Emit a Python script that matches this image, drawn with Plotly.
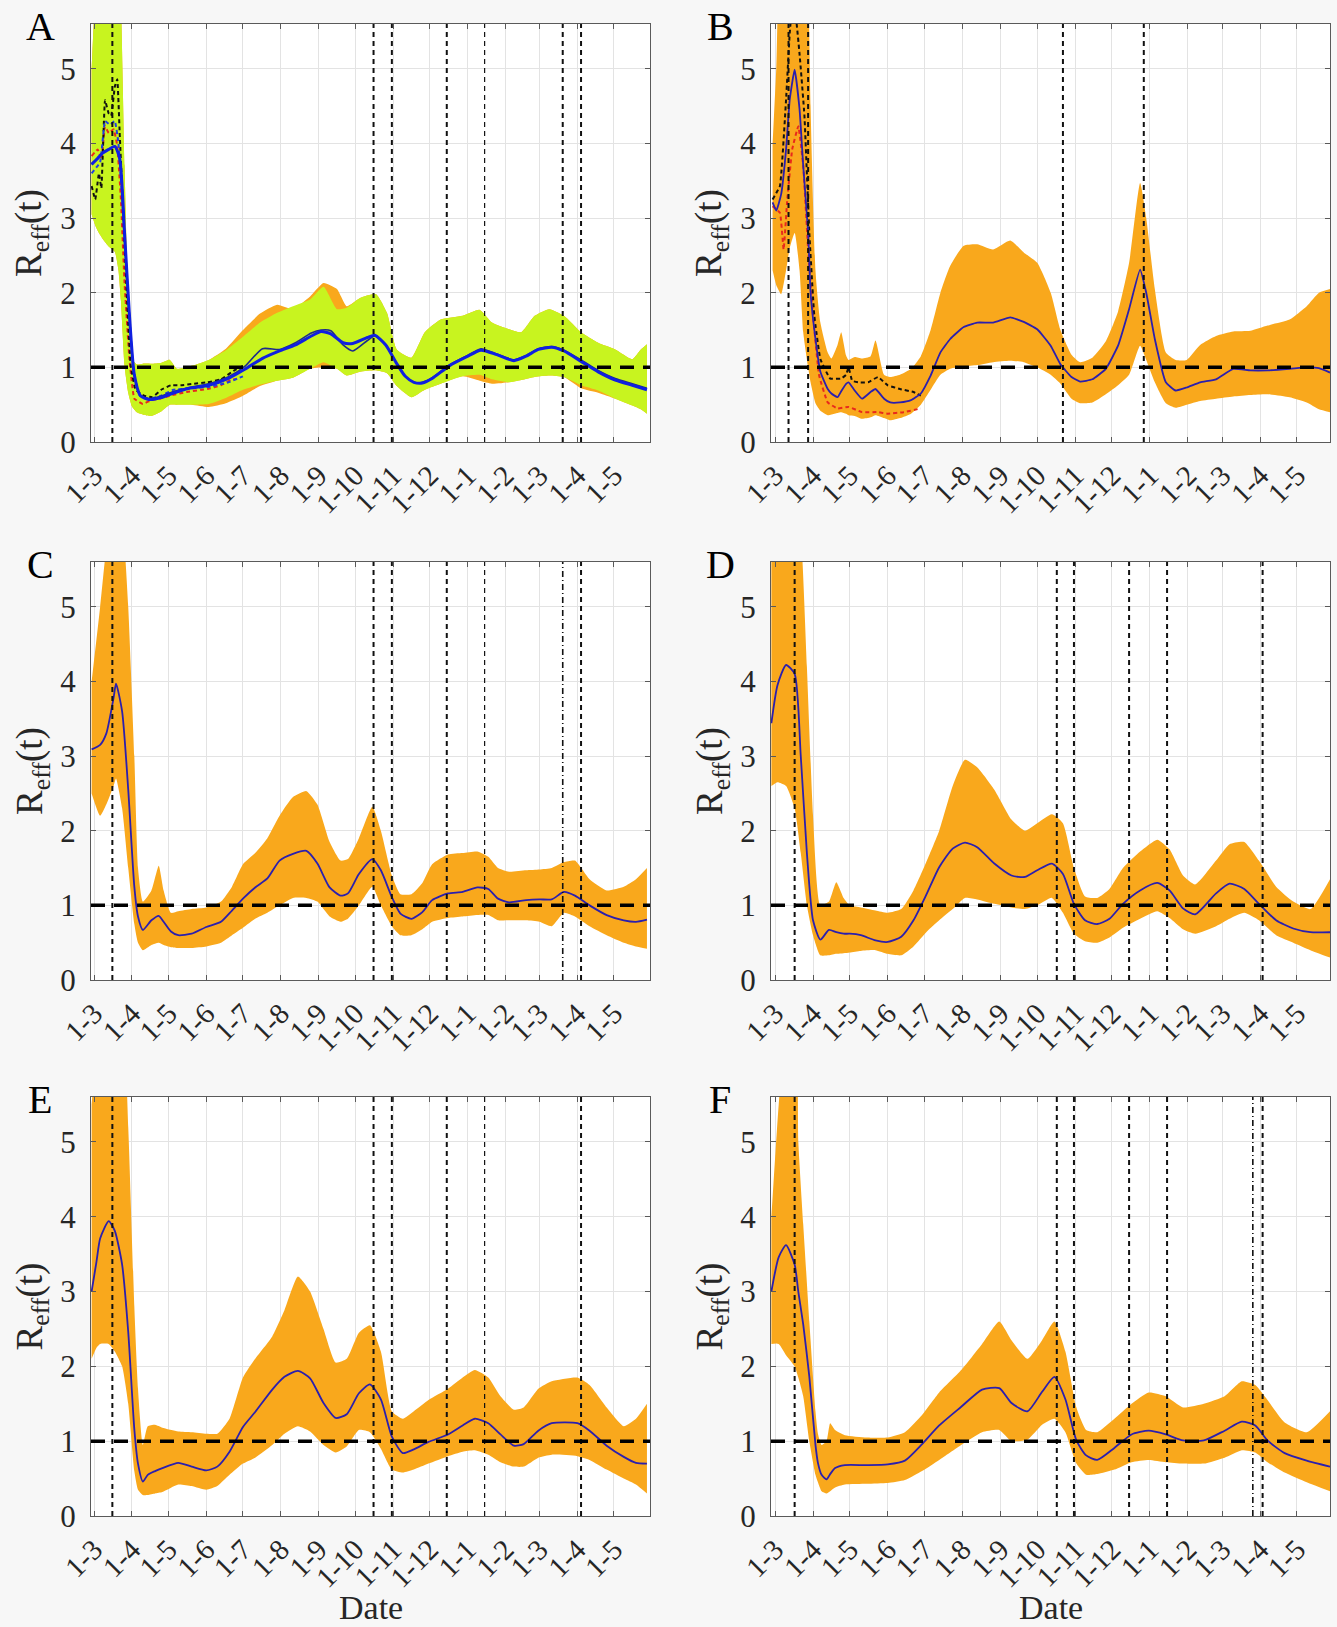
import plotly.graph_objects as go
import pandas as pd

BASE = pd.Timestamp("2020-03-01")
months = pd.date_range("2020-03-01", "2021-05-01", freq="MS")
TICKVALS = [(m - BASE).days for m in months]
TICKTEXT = [f"1-{m.month}" for m in months]


def to_days(dates):
    return [(pd.Timestamp(d) - BASE).days for d in dates]

# ---------------- Panel A ----------------
A_day = [-2, 1, 4, 8, 12, 17, 20, 22, 25, 28, 31, 35, 40, 47, 55, 62, 68, 80, 94, 108,
         122, 136, 150, 163, 177, 188, 199, 207, 218, 231, 240, 248, 260, 271, 284, 302, 316, 326, 340, 350,
         361, 373, 385, 399, 413, 427, 441, 448, 453]
A_g_hi = [5.0, 6.0, 6.5, 6.5, 6.5, 6.5, 6.5, 5.9, 3.7, 1.9, 1.12, 1.04, 1.05, 1.05, 1.06, 1.1, 0.98, 1.02, 1.1, 1.23,
          1.41, 1.6, 1.73, 1.82, 1.91, 2.08, 1.78, 1.8, 1.93, 1.98, 1.73, 1.24, 1.13, 1.47, 1.64, 1.69, 1.77, 1.6, 1.51, 1.47,
          1.69, 1.78, 1.69, 1.47, 1.33, 1.24, 1.11, 1.24, 1.31]
A_g_lo = [3.05, 2.9, 2.8, 2.7, 2.62, 2.55, 2.3, 1.9, 1.02, 0.66, 0.48, 0.4, 0.37, 0.35, 0.41, 0.5, 0.5, 0.5, 0.51, 0.59,
          0.7, 0.77, 0.82, 0.86, 0.98, 1.07, 0.98, 0.89, 0.94, 0.96, 0.92, 0.75, 0.6, 0.7, 0.78, 0.88, 0.9, 0.84, 0.8, 0.83,
          0.87, 0.89, 0.87, 0.76, 0.69, 0.58, 0.49, 0.44, 0.38]
A_o_hi = [5.0, 6.0, 6.5, 6.5, 6.5, 6.5, 6.5, 5.9, 3.7, 1.9, 1.12, 1.04, 1.05, 1.05, 1.06, 1.1, 0.98, 1.02, 1.1, 1.25,
          1.5, 1.72, 1.84, 1.78, 1.95, 2.13, 2.05, 1.82, 1.93, 1.98, 1.73, 1.24, 1.13, 1.47, 1.64, 1.69, 1.77, 1.6, 1.51, 1.47,
          1.69, 1.78, 1.69, 1.47, 1.33, 1.24, 1.11, 1.24, 1.31]
A_o_lo = [3.05, 2.9, 2.8, 2.7, 2.62, 2.55, 2.3, 1.9, 1.02, 0.66, 0.48, 0.4, 0.37, 0.35, 0.41, 0.5, 0.5, 0.5, 0.47, 0.52,
          0.62, 0.75, 0.82, 0.86, 0.98, 1.0, 0.98, 0.89, 0.94, 0.96, 0.92, 0.75, 0.6, 0.7, 0.78, 0.88, 0.82, 0.78, 0.8, 0.83,
          0.87, 0.89, 0.87, 0.72, 0.66, 0.58, 0.49, 0.44, 0.38]
A_b_day = [-2, 3, 7, 12, 17, 21, 25, 29, 33, 38, 45, 56, 64, 78, 94, 111, 124, 138, 152, 165,
           178, 186, 194, 204, 212, 224, 230, 239, 248, 255, 262, 269, 277, 291, 305, 317, 330, 344, 354, 364,
           375, 385, 399, 413, 427, 441, 453]
A_blue = [3.72, 3.8, 3.87, 3.92, 3.96, 3.8, 2.8, 1.7, 0.9, 0.62, 0.57, 0.6, 0.65, 0.72, 0.76, 0.86, 0.98, 1.12, 1.22, 1.3,
          1.42, 1.48, 1.45, 1.33, 1.32, 1.4, 1.43, 1.3, 1.05, 0.88, 0.8, 0.79, 0.85, 1.02, 1.14, 1.23, 1.17, 1.09, 1.15, 1.24,
          1.27, 1.22, 1.08, 0.94, 0.83, 0.76, 0.7]
A_navy = [3.72, 3.8, 3.87, 3.92, 3.96, 3.8, 2.8, 1.7, 0.9, 0.62, 0.58, 0.62, 0.67, 0.73, 0.78, 0.88, 1.02, 1.25, 1.24, 1.33,
          1.46, 1.5, 1.49, 1.3, 1.22, 1.36, 1.42, 1.3, 1.05, 0.88, 0.8, 0.8, 0.86, 1.03, 1.15, 1.25, 1.18, 1.1, 1.16, 1.25,
          1.28, 1.23, 1.1, 0.96, 0.85, 0.78, 0.72]
A_k_day = [-2, 1, 4, 6, 9, 12, 14, 17, 19, 21, 24, 27, 30, 34, 41, 48, 55, 63, 71, 82, 93, 104, 115, 122]
A_black = [3.43, 3.25, 3.6, 3.4, 4.58, 4.4, 4.37, 4.76, 4.86, 4.14, 3.02, 1.91, 1.03, 0.7, 0.62, 0.6, 0.7, 0.76,
           0.76, 0.78, 0.8, 0.84, 0.96, 1.02]
A_r_day = [-2, 3, 6, 9, 12, 16, 19, 22, 25, 29, 33, 40, 47, 54, 62, 76, 93, 104, 112, 118]
A_red = [3.83, 3.92, 3.79, 4.23, 4.14, 4.19, 3.97, 3.25, 2.13, 1.11, 0.58, 0.51, 0.56, 0.58, 0.62, 0.67, 0.71,
         0.76, 0.83, 0.85]
A_bd_day = [-2, 5, 9, 13, 17, 20, 24, 28, 32, 37, 45, 55, 65, 80, 95, 110, 122]
A_bluedash = [3.6, 3.75, 4.3, 4.25, 4.3, 4.0, 3.0, 1.9, 1.0, 0.63, 0.58, 0.62, 0.7, 0.72, 0.74, 0.8, 0.88]

# ---------------- Panel B ----------------
B_day = [-2, 1, 5, 9, 12, 16, 20, 23, 27, 29, 33, 37, 43, 46, 51, 54, 58, 60, 65, 71,
         78, 82, 89, 94, 102, 111, 119, 127, 135, 143, 154, 165, 178, 192, 203, 214, 225, 233, 242, 249,
         259, 270, 280, 289, 298, 303, 310, 319, 327, 336, 347, 360, 374, 388, 402, 420, 434, 444, 453]
B_mid = [3.21, 3.1, 3.32, 3.92, 4.59, 4.99, 4.46, 3.7, 2.81, 2.0, 1.38, 0.94, 0.71, 0.65, 0.6, 0.68, 0.78, 0.8, 0.69, 0.58,
         0.67, 0.71, 0.58, 0.53, 0.53, 0.56, 0.65, 0.89, 1.2, 1.38, 1.54, 1.6, 1.6, 1.67, 1.61, 1.51, 1.29, 1.04, 0.87, 0.81,
         0.84, 0.98, 1.29, 1.78, 2.31, 2.0, 1.38, 0.8, 0.69, 0.73, 0.8, 0.84, 0.98, 0.96, 0.96, 0.98, 1.0, 0.99, 0.93]
B_hi = [4.0, 5.0, 6.5, 6.5, 6.5, 6.5, 6.5, 6.5, 6.0, 4.5, 2.3, 1.6, 1.2, 1.12, 1.3, 1.47, 1.16, 1.1, 1.14, 1.12,
        1.15, 1.36, 0.9, 0.87, 0.9, 0.98, 1.15, 1.5, 2.0, 2.36, 2.63, 2.65, 2.58, 2.7, 2.54, 2.4, 2.0, 1.5, 1.17, 1.07,
        1.13, 1.35, 1.75, 2.4, 3.47, 3.0, 2.05, 1.2, 1.1, 1.1, 1.3, 1.42, 1.48, 1.49, 1.56, 1.64, 1.82, 2.0, 2.05]
B_lo = [2.3, 2.1, 1.98, 2.3, 2.6, 2.8, 2.3, 1.47, 1.0, 0.8, 0.52, 0.42, 0.36, 0.37, 0.39, 0.4, 0.38, 0.36, 0.35, 0.31,
        0.33, 0.36, 0.32, 0.29, 0.32, 0.38, 0.5, 0.7, 0.9, 0.98, 1.01, 1.03, 1.07, 1.09, 1.07, 1.0, 0.9, 0.78, 0.58, 0.52,
        0.53, 0.64, 0.76, 0.9, 1.29, 1.1, 0.8, 0.52, 0.46, 0.5, 0.55, 0.58, 0.61, 0.63, 0.64, 0.6, 0.53, 0.44, 0.4]
B_k_day = [-2, 4, 9, 12, 14, 16, 20, 24, 28, 32, 37, 45, 54, 58, 60, 63, 68, 76, 84, 92, 102, 113, 119]
B_black = [3.25, 3.43, 4.59, 5.48, 5.8, 5.8, 5.2, 4.37, 2.8, 1.7, 1.11, 0.85, 0.85, 0.9, 1.0, 0.82, 0.8, 0.8,
           0.87, 0.76, 0.71, 0.67, 0.62]
B_r_day = [-2, 4, 7, 10, 14, 19, 23, 27, 31, 36, 43, 51, 60, 71, 84, 92, 105, 119]
B_red = [3.16, 3.07, 2.58, 3.25, 3.92, 4.23, 3.7, 2.58, 1.7, 0.89, 0.53, 0.45, 0.47, 0.4, 0.4, 0.38, 0.4, 0.45]

# ---------------- Panel C ----------------
C_day = [-2, 5, 10, 16, 18, 23, 28, 33, 36, 40, 47, 53, 57, 63, 69, 80, 92, 104, 113, 122,
         132, 142, 152, 163, 174, 183, 193, 202, 208, 217, 228, 235, 244, 251, 260, 269, 277, 290, 302, 314,
         323, 331, 340, 354, 365, 375, 385, 394, 406, 420, 434, 444, 453]
C_mid = [3.09, 3.15, 3.3, 3.78, 3.97, 3.6, 2.55, 1.25, 0.85, 0.67, 0.8, 0.86, 0.78, 0.65, 0.6, 0.62, 0.71, 0.78, 0.93, 1.09,
         1.24, 1.36, 1.6, 1.69, 1.73, 1.56, 1.24, 1.13, 1.16, 1.42, 1.62, 1.47, 1.11, 0.89, 0.82, 0.91, 1.07, 1.16, 1.18, 1.24,
         1.22, 1.09, 1.04, 1.07, 1.08, 1.08, 1.18, 1.13, 1.0, 0.87, 0.8, 0.78, 0.81]
C_hi = [4.0, 5.0, 5.8, 6.5, 6.5, 6.2, 5.0, 3.0, 1.5, 1.05, 1.2, 1.53, 1.2, 0.9, 0.92, 0.95, 0.97, 1.05, 1.25, 1.55,
        1.7, 1.9, 2.2, 2.45, 2.53, 2.35, 1.85, 1.6, 1.62, 1.9, 2.32, 2.0, 1.4, 1.15, 1.15, 1.3, 1.55, 1.68, 1.7, 1.72,
        1.65, 1.5, 1.45, 1.47, 1.48, 1.5, 1.58, 1.6, 1.35, 1.2, 1.25, 1.35, 1.5]
C_lo = [2.5, 2.2, 2.35, 2.6, 2.7, 2.3, 1.5, 0.75, 0.5, 0.4, 0.47, 0.5, 0.47, 0.44, 0.43, 0.43, 0.45, 0.5, 0.6, 0.7,
        0.82, 0.9, 1.0, 1.1, 1.1, 1.05, 0.85, 0.78, 0.82, 1.0, 1.25, 1.0, 0.72, 0.6, 0.6, 0.68, 0.78, 0.83, 0.85, 0.87,
        0.87, 0.8, 0.8, 0.8, 0.78, 0.72, 0.9, 0.85, 0.72, 0.6, 0.5, 0.45, 0.42]

# ---------------- Panel D ----------------
D_day = [-3, 2, 9, 16, 21, 26, 31, 37, 44, 50, 56, 61, 70, 82, 92, 103, 113, 124, 134, 145,
         155, 165, 179, 193, 204, 214, 226, 235, 244, 253, 263, 273, 284, 298, 312, 322, 333, 343, 360, 371,
         383, 395, 409, 423, 437, 453]
D_mid = [3.44, 3.95, 4.22, 4.1, 3.0, 1.7, 0.8, 0.54, 0.67, 0.64, 0.62, 0.62, 0.6, 0.53, 0.51, 0.58, 0.8, 1.16, 1.51, 1.76,
         1.84, 1.78, 1.56, 1.4, 1.38, 1.47, 1.56, 1.42, 1.02, 0.8, 0.75, 0.82, 1.02, 1.2, 1.3, 1.2, 0.96, 0.88, 1.16, 1.29,
         1.22, 1.02, 0.8, 0.69, 0.64, 0.64]
D_hi = [6.5, 6.5, 6.5, 6.5, 6.0, 4.2, 2.2, 1.0, 1.05, 1.31, 1.1, 1.0, 0.97, 0.93, 0.9, 0.95, 1.2, 1.6, 2.0, 2.6,
        2.95, 2.85, 2.55, 2.15, 2.0, 2.1, 2.22, 2.1, 1.5, 1.12, 1.1, 1.22, 1.5, 1.72, 1.88, 1.75, 1.4, 1.28, 1.6, 1.82,
        1.85, 1.6, 1.25, 1.05, 0.95, 1.35]
D_lo = [2.6, 2.65, 2.6, 2.3, 1.7, 1.0, 0.6, 0.33, 0.33, 0.35, 0.36, 0.37, 0.39, 0.4, 0.35, 0.33, 0.45, 0.65, 0.8, 0.95,
        1.1, 1.08, 1.02, 0.97, 0.95, 1.0, 1.1, 0.9, 0.62, 0.52, 0.5, 0.57, 0.7, 0.82, 0.92, 0.83, 0.68, 0.62, 0.72, 0.82,
        0.9, 0.8, 0.6, 0.5, 0.4, 0.3]

# ---------------- Panel E ----------------
E_day = [-2, 2, 5, 12, 17, 23, 28, 33, 36, 40, 44, 50, 56, 69, 80, 92, 101, 111, 122, 132,
         146, 156, 167, 177, 188, 198, 207, 217, 226, 235, 244, 253, 262, 274, 290, 302, 312, 323, 333, 344,
         352, 364, 375, 396, 406, 420, 434, 444, 453]
E_mid = [3.0, 3.4, 3.71, 3.94, 3.81, 3.36, 2.46, 1.16, 0.7, 0.46, 0.55, 0.6, 0.64, 0.71, 0.66, 0.61, 0.66, 0.86, 1.19, 1.39,
         1.69, 1.86, 1.94, 1.84, 1.51, 1.31, 1.36, 1.64, 1.76, 1.56, 1.06, 0.84, 0.89, 0.99, 1.09, 1.21, 1.3, 1.24, 1.09, 0.94,
         0.96, 1.14, 1.24, 1.24, 1.14, 0.94, 0.79, 0.71, 0.7]
E_hi = [5.5, 6.2, 6.5, 6.5, 6.5, 6.5, 5.2, 2.8, 1.7, 0.95, 1.2, 1.22, 1.18, 1.13, 1.12, 1.1, 1.1, 1.3, 1.85, 2.1,
        2.4, 2.75, 3.2, 3.0, 2.5, 2.05, 2.1, 2.45, 2.55, 2.2, 1.4, 1.3, 1.4, 1.55, 1.7, 1.85, 1.95, 1.85, 1.6, 1.42,
        1.45, 1.7, 1.8, 1.85, 1.75, 1.45, 1.2, 1.3, 1.5]
E_lo = [2.1, 2.25, 2.3, 2.3, 2.2, 2.0, 1.5, 0.6, 0.35, 0.28, 0.28, 0.3, 0.32, 0.42, 0.4, 0.35, 0.4, 0.55, 0.7, 0.78,
        0.95, 1.1, 1.2, 1.13, 0.95, 0.85, 0.93, 1.15, 1.12, 0.9, 0.62, 0.58, 0.62, 0.7, 0.8, 0.86, 0.88, 0.82, 0.72, 0.66,
        0.66, 0.78, 0.82, 0.8, 0.75, 0.62, 0.5, 0.42, 0.3]

# ---------------- Panel F ----------------
F_day = [-3, 3, 9, 16, 19, 23, 28, 33, 35, 38, 42, 45, 49, 57, 75, 92, 106, 120, 134, 152,
         169, 183, 193, 206, 218, 228, 237, 246, 254, 263, 277, 291, 305, 319, 333, 350, 367, 381, 392, 402,
         416, 434, 453]
F_mid = [3.0, 3.46, 3.62, 3.36, 3.0, 2.56, 1.86, 0.95, 0.71, 0.55, 0.49, 0.56, 0.64, 0.68, 0.68, 0.69, 0.74, 0.96, 1.21, 1.46,
         1.69, 1.71, 1.51, 1.4, 1.66, 1.86, 1.56, 1.01, 0.81, 0.75, 0.91, 1.09, 1.14, 1.09, 1.01, 1.01, 1.14, 1.26, 1.21, 1.01,
         0.84, 0.74, 0.66]
F_hi = [4.0, 5.5, 6.5, 6.5, 5.0, 3.9, 2.6, 1.4, 1.1, 0.95, 1.0, 1.24, 1.15, 1.08, 1.05, 1.05, 1.12, 1.35, 1.65, 1.95,
        2.3, 2.6, 2.35, 2.1, 2.35, 2.6, 2.2, 1.45, 1.15, 1.12, 1.3, 1.5, 1.65, 1.6, 1.45, 1.5, 1.6, 1.8, 1.75, 1.55,
        1.25, 1.12, 1.4]
F_lo = [2.3, 2.3, 2.15, 2.0, 1.85, 1.6, 1.0, 0.55, 0.45, 0.33, 0.3, 0.33, 0.38, 0.42, 0.43, 0.44, 0.48, 0.6, 0.75, 0.95,
        1.12, 1.15, 1.0, 1.02, 1.22, 1.3, 1.12, 0.7, 0.55, 0.56, 0.62, 0.72, 0.75, 0.72, 0.7, 0.7, 0.78, 0.88, 0.85, 0.72,
        0.58, 0.45, 0.33]

# ---------------- Vertical marker dates ----------------
VL_A = ["2020-03-16", "2020-10-16", "2020-10-31", "2020-12-15", "2021-03-20", "2021-04-04"]
VL_A_thin = ["2021-01-15"]
VL_B = ["2020-03-12", "2020-03-28", "2020-10-22", "2020-12-27"]
VL_C = ["2020-03-16", "2020-10-16", "2020-10-31", "2020-12-15", "2021-04-04"]
VL_C_thin = ["2021-01-15"]
VL_C_dashdot = ["2021-03-20"]
VL_D = ["2020-03-17", "2020-10-17", "2020-10-31", "2020-12-15", "2021-01-15", "2021-04-03"]
VL_E = ["2020-03-16", "2020-10-16", "2020-10-31", "2020-12-15", "2021-04-04"]
VL_E_thin = ["2021-01-15"]
VL_F = ["2020-03-17", "2020-10-17", "2020-10-31", "2020-12-15", "2021-01-15", "2021-04-03"]
VL_F_dashdot = ["2021-03-26"]

ORANGE = "#f9a81c"
GREEN = "#c8f41f"
MED = "#2b1fae"
FONT = "Liberation Serif"
TXT = "#262626"
W, H = 1337, 1627

# pixel layout of the six axes on the page (left, right, top, bottom)
BOX = {1: (91, 650, 24, 442), 2: (771, 1330, 24, 442),
       3: (91, 650, 562, 980), 4: (771, 1330, 562, 980),
       5: (91, 650, 1097, 1516), 6: (771, 1330, 1097, 1516)}
XR_LEFT = [-2.5, 455.5]
XR_RIGHT = [-3.3, 453]


def px(x):
    return x / W


def py(y):
    return 1 - y / H


fig = go.Figure()


def axn(n):
    return "" if n == 1 else str(n)


def band(n, x, lo, hi, color):
    fig.add_trace(go.Scatter(x=x, y=lo, mode="lines", line=dict(width=0, shape="spline", smoothing=0.5),
                             showlegend=False, hoverinfo="skip", xaxis="x" + axn(n), yaxis="y" + axn(n)))
    fig.add_trace(go.Scatter(x=x, y=hi, mode="lines", line=dict(width=0, shape="spline", smoothing=0.5),
                             fill="tonexty", fillcolor=color, showlegend=False, hoverinfo="skip",
                             xaxis="x" + axn(n), yaxis="y" + axn(n)))


def line(n, x, y, color, width, dash="solid", smooth=0.6):
    fig.add_trace(go.Scatter(x=x, y=y, mode="lines",
                             line=dict(color=color, width=width, dash=dash, shape="spline", smoothing=smooth),
                             showlegend=False, hoverinfo="skip", xaxis="x" + axn(n), yaxis="y" + axn(n)))


# Panel A
band(1, A_day, A_o_lo, A_o_hi, ORANGE)
band(1, A_day, A_g_lo, A_g_hi, GREEN)
line(1, A_r_day, A_red, "#e8291c", 2, "4px,3px", 0.3)
line(1, A_k_day, A_black, "#111111", 2, "4px,3px", 0.3)
line(1, A_bd_day, A_bluedash, "#1f3fe0", 2, "4px,3px", 0.3)
line(1, A_b_day, A_navy, "#1c2a8c", 1.6)
line(1, A_b_day, A_blue, "#1020e0", 3)
# Panel B
band(2, B_day, B_lo, B_hi, ORANGE)
line(2, B_r_day, B_red, "#e8291c", 2, "4px,3px", 0.3)
line(2, B_k_day, B_black, "#111111", 2, "4px,3px", 0.3)
line(2, B_day, B_mid, MED, 1.8, "solid", 0.4)
# Panels C-F
for n, (d, lo, hi, mid) in {3: (C_day, C_lo, C_hi, C_mid), 4: (D_day, D_lo, D_hi, D_mid),
                            5: (E_day, E_lo, E_hi, E_mid), 6: (F_day, F_lo, F_hi, F_mid)}.items():
    band(n, d, lo, hi, ORANGE)
    line(n, d, mid, MED, 1.8)

vlines = {
    1: [(VL_A, 2, "5px,4px"), (VL_A_thin, 1.2, "5px,4px")],
    2: [(VL_B, 2, "5px,4px")],
    3: [(VL_C, 2, "5px,4px"), (VL_C_thin, 1.2, "5px,4px"), (VL_C_dashdot, 1.6, "6px,3px,1px,3px")],
    4: [(VL_D, 2, "5px,4px")],
    5: [(VL_E, 2, "5px,4px"), (VL_E_thin, 1.2, "5px,4px")],
    6: [(VL_F, 2, "5px,4px"), (VL_F_dashdot, 1.6, "6px,3px,1px,3px")],
}

shapes = []
annotations = []
layout = dict(width=W, height=H, paper_bgcolor="#f7f7f7", plot_bgcolor="white",
              margin=dict(l=0, r=0, t=0, b=0, autoexpand=False), showlegend=False,
              font=dict(family=FONT, color=TXT))
letters = "ABCDEF"
for n, (l, r, t, b) in BOX.items():
    a = axn(n)
    left_col = n % 2 == 1
    layout["xaxis" + a] = dict(domain=[px(l), px(r)], range=XR_LEFT if left_col else XR_RIGHT,
                               anchor="y" + a, tickmode="array", tickvals=TICKVALS, ticktext=TICKTEXT,
                               tickangle=-45, tickfont=dict(family=FONT, size=29, color=TXT),
                               showgrid=True, gridcolor="#e3e3e3", gridwidth=1, zeroline=False,
                               showline=True, linecolor="#5a5a5a", linewidth=1, mirror="allticks",
                               ticks="inside", ticklen=5, tickcolor="#5a5a5a", ticklabelstandoff=4,
                               automargin=False)
    layout["yaxis" + a] = dict(domain=[py(b), py(t)], range=[0, 5.6], anchor="x" + a,
                               tickvals=[0, 1, 2, 3, 4, 5], tickfont=dict(family=FONT, size=31, color=TXT),
                               showgrid=True, gridcolor="#e3e3e3", gridwidth=1, zeroline=False,
                               showline=True, linecolor="#5a5a5a", linewidth=1, mirror="allticks",
                               ticks="inside", ticklen=5, tickcolor="#5a5a5a", ticklabelstandoff=8,
                               automargin=False)
    for dates, wdt, dash in vlines[n]:
        for dd in to_days(dates):
            shapes.append(dict(type="line", xref="x" + a, yref="y" + a + " domain", x0=dd, x1=dd, y0=0, y1=1,
                               line=dict(color="#111111", width=wdt, dash=dash)))
    shapes.append(dict(type="line", xref="x" + a + " domain", yref="y" + a, x0=0, x1=1, y0=1, y1=1,
                       line=dict(color="black", width=3.5, dash="14px,9px")))
    # panel letter
    annotations.append(dict(text=letters[n - 1], xref="paper", yref="paper",
                            x=px(l - 51), y=py(t + 2), xanchor="center", yanchor="middle",
                            showarrow=False, font=dict(family=FONT, size=40, color="black")))
    # y-axis title
    annotations.append(dict(text="R<sub>eff</sub>(t)", xref="paper", yref="paper",
                            x=px(l - 59), y=py((t + b) / 2), xanchor="center", yanchor="middle",
                            textangle=-90, showarrow=False, font=dict(family=FONT, size=37, color=TXT)))
    if n >= 5:
        annotations.append(dict(text="Date", xref="paper", yref="paper", x=px((l + r) / 2), y=py(1607),
                                xanchor="center", yanchor="middle", showarrow=False,
                                font=dict(family=FONT, size=34, color=TXT)))

layout["shapes"] = shapes
layout["annotations"] = annotations
fig.update_layout(**layout)
fig.write_html("out.html", config={"displayModeBar": False},
               post_script="document.body.style.margin='0';")
